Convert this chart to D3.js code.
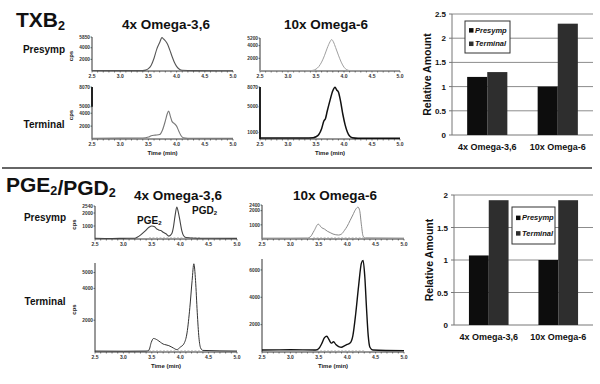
<!DOCTYPE html>
<html>
<head>
<meta charset="utf-8">
<script src="https://cdn.jsdelivr.net/npm/d3@7"></script>
<style>
  body { margin: 0; background: #fff; }
  svg { display: block; }
</style>
</head>
<body>
<svg id="fig" width="600" height="384"></svg>
<script>
// ---- data ----
const groups = ["4x Omega-3,6", "10x Omega-6"];
const seriesNames = ["Presymp", "Terminal"];
const timeTicks = [2.5, 3.0, 3.5, 4.0, 4.5, 5.0];

// relative amounts (bar charts)
const txbPresymp = [1.2, 1.0];
const txbTerminal = [1.3, 2.3];
const txbBarTicks = [0, 0.5, 1, 1.5, 2, 2.5];
const pgPresymp = [1.07, 1.0];
const pgTerminal = [1.92, 1.92];
const pgBarTicks = [0, 0.5, 1, 1.5, 2];

// chromatograms: [time (min), cps]
const txb4xPre = [[2.5,80],[2.8,60],[3.1,70],[3.4,60],[3.45,150],[3.5,400],[3.55,1000],[3.6,2200],[3.65,3800],
  [3.7,4900],[3.74,5750],[3.77,5500],[3.8,5200],[3.84,4600],[3.88,3600],[3.92,2500],[3.96,1500],[4.0,800],
  [4.05,300],[4.1,120],[4.3,60],[4.7,50],[5.0,50]];
const txb4xTerm = [[2.5,120],[3.0,130],[3.4,150],[3.5,300],[3.55,500],[3.62,600],[3.7,700],[3.75,1400],[3.8,2800],
  [3.83,3800],[3.86,4350],[3.89,3500],[3.92,2700],[3.96,2400],[4.0,2000],[4.04,1200],[4.08,500],[4.12,200],
  [4.2,120],[5.0,100]];
const txb10xPre = [[2.5,50],[3.0,50],[3.4,50],[3.45,120],[3.5,300],[3.55,700],[3.6,1400],[3.65,2400],[3.7,3600],
  [3.75,4600],[3.78,4950],[3.81,4600],[3.85,3700],[3.9,2500],[3.95,1400],[4.0,600],[4.05,200],[4.1,80],
  [4.5,50],[5.0,50]];
const txb10xTerm = [[2.5,150],[3.0,160],[3.3,150],[3.45,200],[3.5,350],[3.55,700],[3.6,1600],[3.64,2800],[3.67,3200],
  [3.7,4300],[3.75,6000],[3.8,7500],[3.84,8050],[3.87,7600],[3.9,7300],[3.94,5800],[3.98,3800],[4.02,2200],
  [4.06,1100],[4.1,450],[4.15,200],[4.25,120],[5.0,100]];
const pg4xPre = [[2.5,60],[2.8,40],[3.0,50],[3.2,60],[3.25,150],[3.3,300],[3.38,600],[3.45,900],[3.5,1000],
  [3.55,950],[3.58,800],[3.62,700],[3.66,650],[3.7,520],[3.75,400],[3.8,220],[3.85,400],[3.88,900],[3.91,1800],
  [3.94,2450],[3.97,2000],[4.0,1300],[4.03,600],[4.06,250],[4.1,120],[4.3,60],[5.0,50]];
const pg4xTerm = [[2.5,60],[3.0,50],[3.4,60],[3.45,120],[3.49,600],[3.53,850],[3.6,750],[3.65,620],[3.7,500],
  [3.75,450],[3.8,400],[3.88,250],[3.94,150],[4.0,300],[4.07,550],[4.12,1200],[4.17,2800],[4.21,4500],
  [4.24,5550],[4.27,4500],[4.3,2500],[4.33,900],[4.36,250],[4.4,100],[5.0,60]];
const pg10xPre = [[2.5,60],[3.0,60],[3.3,70],[3.35,150],[3.42,600],[3.49,1050],[3.55,800],[3.6,700],[3.65,550],
  [3.7,450],[3.75,350],[3.8,300],[3.85,280],[3.9,350],[3.95,600],[4.0,900],[4.05,1300],[4.1,1700],[4.15,2100],
  [4.19,2250],[4.22,2000],[4.25,1000],[4.28,200],[4.32,80],[5.0,60]];
const pg10xTerm = [[2.5,150],[3.0,160],[3.45,150],[3.5,250],[3.55,600],[3.6,1050],[3.64,1150],[3.68,900],[3.72,650],
  [3.76,750],[3.8,550],[3.85,400],[3.9,350],[3.95,450],[4.0,550],[4.05,650],[4.1,1200],[4.15,2800],[4.2,4800],
  [4.25,6500],[4.28,6700],[4.31,5500],[4.34,3200],[4.37,1200],[4.4,350],[4.45,150],[5.0,100]];

// integration baselines (gray dashes) [start, end] in min
const pgBase4x = [3.45, 4.35];
const pgBase10x = [3.4, 4.3];

// ---- layout ----
const svg = d3.select("#fig");
const bold = "'Liberation Sans', Arial, sans-serif";

function heading(x, y, parts, size) {
  const t = svg.append("text").attr("x", x).attr("y", y)
    .style("font", `bold ${size}px ${bold}`).attr("fill", "#111");
  parts.forEach(p => {
    if (p.sub) {
      t.append("tspan").attr("dy", size * 0.12).style("font-size", (size * 0.6) + "px").text(p.t);
      t.append("tspan").attr("dy", -size * 0.12).text("");
    } else t.append("tspan").text(p.t);
  });
  return t;
}

function label(x, y, txt, size, anchor = "middle", extra = {}) {
  return svg.append("text").attr("x", x).attr("y", y)
    .attr("text-anchor", anchor)
    .style("font", `${extra.italic ? "italic " : ""}bold ${size}px ${bold}`)
    .attr("fill", extra.fill || "#111")
    .text(txt);
}

// headings
heading(16, 27, [{t: "TXB"}, {t: "2", sub: true}], 21);
heading(6, 192, [{t: "PGE"}, {t: "2", sub: true}, {t: "/PGD"}, {t: "2", sub: true}], 21);
label(166, 29, groups[0], 13.5);
label(326, 29, groups[1], 13.5);
label(178, 200, groups[0], 13.5);
label(335, 200, groups[1], 13.5);
label(44, 53, "Presymp", 10);
label(44, 128, "Terminal", 10);
label(45, 221, "Presymp", 10);
label(45, 305, "Terminal", 10);

// separator
svg.append("line").attr("x1", 2).attr("x2", 592).attr("y1", 168).attr("y2", 168)
  .attr("stroke", "#333").attr("stroke-width", 1.5);

// ---- chromatogram panels ----
const chromPanels = [
  {d: txb4xPre,  x: [92, 233],  y: [71, 37],   max: 5850, ticks: [2000, 4000], top: "5850", color: "#555", w: 1.1, cps: true},
  {d: txb4xTerm, x: [92, 233],  y: [139, 87],  max: 8070, ticks: [2000, 4000, 5000], top: "8070", color: "#777", w: 1.1, cps: true, thick: 5000, time: true},
  {d: txb10xPre, x: [260, 400], y: [71, 38],   max: 5200, ticks: [2000, 4000], top: "5200", color: "#a0a0a0", w: 1.0},
  {d: txb10xTerm,x: [260, 400], y: [139, 87],  max: 8070, ticks: [1000, 5000], top: "8070", color: "#111", w: 1.5, thick: 0, time: true},
  {d: pg4xPre,   x: [95, 237],  y: [239, 206], max: 2540, ticks: [1000, 2000], top: "2540", color: "#444", w: 1.1, cps: true, base: pgBase4x},
  {d: pg4xTerm,  x: [95, 237],  y: [352, 263], max: 5600, ticks: [2000, 4000, 5000], top: null, color: "#333", w: 1.0, cps: true, base: pgBase4x, time: true},
  {d: pg10xPre,  x: [262, 404], y: [239, 205], max: 2400, ticks: [1000, 2000], top: "2400", color: "#8a8a8a", w: 1.0, base: pgBase10x},
  {d: pg10xTerm, x: [262, 404], y: [352, 259], max: 6800, ticks: [2000, 4000, 6000], top: null, color: "#111", w: 1.4, base: pgBase10x, time: true}
];

function drawChrom(p) {
  const x = d3.scaleLinear().domain([2.5, 5.0]).range(p.x);
  const y = d3.scaleLinear().domain([0, p.max]).range(p.y);
  const g = svg.append("g");

  // axes
  g.append("line").attr("x1", p.x[0]).attr("x2", p.x[1]).attr("y1", p.y[0]).attr("y2", p.y[0])
    .attr("stroke", "#333").attr("stroke-width", 1);
  g.append("line").attr("x1", p.x[0]).attr("x2", p.x[0]).attr("y1", p.y[0]).attr("y2", p.y[1])
    .attr("stroke", "#333").attr("stroke-width", 1);
  if (p.thick !== undefined) {
    g.append("line").attr("x1", p.x[0]).attr("x2", p.x[0]).attr("y1", y(p.thick)).attr("y2", p.y[1])
      .attr("stroke", "#222").attr("stroke-width", 2);
  }
  // minor ticks along time axis
  g.selectAll(".mt").data(d3.range(25, 51).map(v => v / 10)).join("line")
    .attr("x1", d => x(d)).attr("x2", d => x(d))
    .attr("y1", p.y[0]).attr("y2", p.y[0] + 1.5)
    .attr("stroke", "#444").attr("stroke-width", 0.7);
  g.selectAll(".xt").data(timeTicks).join("text")
    .attr("x", d => x(d)).attr("y", p.y[0] + 7)
    .attr("text-anchor", "middle")
    .style("font", `bold 5px ${bold}`).attr("fill", "#333")
    .text(d => d.toFixed(1));

  const yLabels = p.ticks.map(v => ({v, t: String(v)}));
  if (p.top) yLabels.push({v: p.max, t: p.top});
  g.selectAll(".yt").data(yLabels).join("line")
    .attr("x1", p.x[0] - 1.5).attr("x2", p.x[0])
    .attr("y1", d => y(d.v)).attr("y2", d => y(d.v))
    .attr("stroke", "#333").attr("stroke-width", 0.7);
  g.selectAll(".yl").data(yLabels).join("text")
    .attr("x", p.x[0] - 2).attr("y", d => y(d.v) + 1.7)
    .attr("text-anchor", "end")
    .style("font", `bold 4.8px ${bold}`).attr("fill", "#333")
    .text(d => d.t);

  if (p.cps) {
    g.append("text")
      .attr("transform", `translate(${p.x[0] - 19},${(p.y[0] + p.y[1]) / 2 + 2}) rotate(-90)`)
      .attr("text-anchor", "middle")
      .style("font", `bold 6px ${bold}`).attr("fill", "#222")
      .text("cps");
  }

  if (p.base) {
    g.append("line").attr("x1", x(p.base[0])).attr("x2", x(p.base[1]))
      .attr("y1", p.y[0] - 1).attr("y2", p.y[0] - 1)
      .attr("stroke", "#999").attr("stroke-width", 0.9).attr("stroke-dasharray", "2,1.5");
  }

  const line = d3.line().x(d => x(d[0])).y(d => y(d[1])).curve(d3.curveMonotoneX);
  g.append("path").datum(p.d).attr("d", line)
    .attr("fill", "none").attr("stroke", p.color).attr("stroke-width", p.w);

  if (p.time) {
    g.append("text").attr("x", (p.x[0] + p.x[1]) / 2).attr("y", p.y[0] + 16)
      .attr("text-anchor", "middle")
      .style("font", `bold 6px ${bold}`).attr("fill", "#222")
      .text("Time (min)");
  }
}
chromPanels.forEach(drawChrom);

// PGE2 / PGD2 peak labels
heading(137, 224, [{t: "PGE"}, {t: "2", sub: true}], 10);
heading(192, 214, [{t: "PGD"}, {t: "2", sub: true}], 10);

// ---- bar charts ----
const barPanels = [
  {pre: txbPresymp, term: txbTerminal, ticks: txbBarTicks, x: [452, 593], y: [135, 14], max: 2.5,
   legend: [465, 21, 45, 32]},
  {pre: pgPresymp, term: pgTerminal, ticks: pgBarTicks, x: [454, 593], y: [325, 195], max: 2,
   legend: [512, 207, 43, 37]}
];
const barColor = d3.scaleOrdinal().domain(seriesNames).range(["#0d0d0d", "#2e2e2e"]);

function drawBars(b) {
  const x0 = d3.scaleBand().domain(groups).range(b.x).paddingInner(0.43).paddingOuter(0.215);
  const x1 = d3.scaleBand().domain(seriesNames).range([0, x0.bandwidth()]).padding(0);
  const y = d3.scaleLinear().domain([0, b.max]).range(b.y);
  const g = svg.append("g");

  g.selectAll(".grid").data(b.ticks.filter(t => t > 0)).join("line")
    .attr("x1", b.x[0]).attr("x2", b.x[1])
    .attr("y1", d => y(d)).attr("y2", d => y(d))
    .attr("stroke", "#8c8c8c").attr("stroke-width", 1);
  g.append("line").attr("x1", b.x[0]).attr("x2", b.x[1]).attr("y1", y(0)).attr("y2", y(0))
    .attr("stroke", "#777").attr("stroke-width", 1);
  g.append("line").attr("x1", b.x[0]).attr("x2", b.x[0]).attr("y1", y(0)).attr("y2", y(b.max))
    .attr("stroke", "#777").attr("stroke-width", 1);
  g.selectAll(".tk").data(b.ticks).join("line")
    .attr("x1", b.x[0] - 3).attr("x2", b.x[0])
    .attr("y1", d => y(d)).attr("y2", d => y(d))
    .attr("stroke", "#777");
  g.selectAll(".tl").data(b.ticks).join("text")
    .attr("x", b.x[0] - 6).attr("y", d => y(d) + 3)
    .attr("text-anchor", "end")
    .style("font", `bold 8px ${bold}`).attr("fill", "#111")
    .text(d => d);

  const rows = groups.map((grp, i) => ({grp, vals: [
    {s: seriesNames[0], v: b.pre[i]}, {s: seriesNames[1], v: b.term[i]}]}));
  g.selectAll(".grp").data(rows).join("g")
    .attr("transform", d => `translate(${x0(d.grp)},0)`)
    .selectAll("rect").data(d => d.vals).join("rect")
    .attr("x", d => x1(d.s)).attr("width", x1.bandwidth())
    .attr("y", d => y(d.v)).attr("height", d => y(0) - y(d.v))
    .attr("fill", d => barColor(d.s));

  g.selectAll(".cl").data(groups).join("text")
    .attr("x", d => x0(d) + x0.bandwidth() / 2).attr("y", y(0) + 15)
    .attr("text-anchor", "middle")
    .style("font", `bold 9px ${bold}`).attr("fill", "#111")
    .text(d => d);

  g.append("text")
    .attr("transform", `translate(${b.x[0] - 21},${(y(0) + y(b.max)) / 2}) rotate(-90)`)
    .attr("text-anchor", "middle")
    .style("font", `bold 10.5px ${bold}`).attr("fill", "#111")
    .text("Relative Amount");

  const [lx, ly, lw, lh] = b.legend;
  g.append("rect").attr("x", lx).attr("y", ly).attr("width", lw).attr("height", lh)
    .attr("fill", "#fff").attr("stroke", "#333").attr("stroke-width", 1);
  seriesNames.forEach((s, i) => {
    const yy = ly + lh * (0.3 + 0.42 * i);
    g.append("rect").attr("x", lx + 4).attr("y", yy - 2.5).attr("width", 4.5).attr("height", 4.5)
      .attr("fill", barColor(s));
    g.append("text").attr("x", lx + 10).attr("y", yy + 2.3)
      .style("font", `italic bold 7.5px ${bold}`).attr("fill", "#111")
      .text(s);
  });
}
barPanels.forEach(drawBars);
</script>
</body>
</html>
